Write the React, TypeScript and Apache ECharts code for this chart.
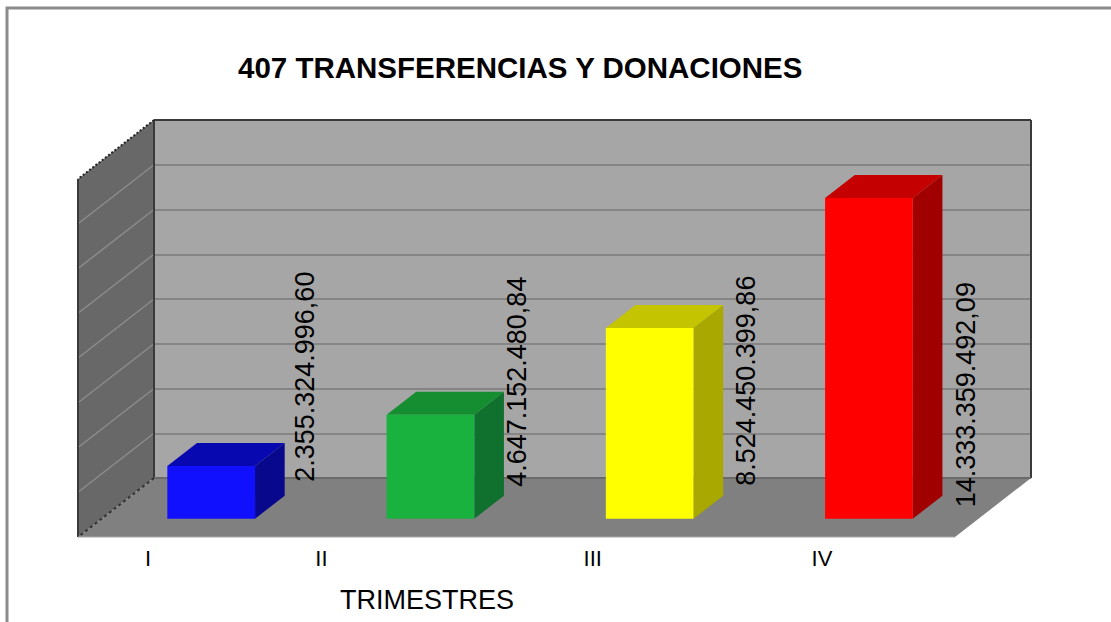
import React, { useEffect, useRef } from "react";
import * as echarts from "echarts";

const categories = ["I", "II", "III", "IV"];
const trimestreValues = [2355324996.6, 4647152480.84, 8524450399.86, 14333359492.09];
const valueLabels = ["2.355.324.996,60", "4.647.152.480,84", "8.524.450.399,86", "14.333.359.492,09"];
const yTicks = [2e9, 4e9, 6e9, 8e9, 10e9, 12e9, 14e9];

const frontColors = ["#1010FF", "#1AB23F", "#FFFF00", "#FF0000"];
const topColors = ["#0808B0", "#158E32", "#C4C400", "#C40000"];
const sideColors = ["#08088C", "#10702D", "#A8A800", "#A00000"];

// oblique projection of the 3D box
const DEPTH_X = -76;
const DEPTH_Y = 59;
const BAR_FRONT = 0.69;
const BAR_BACK = 0.3;
// label placement nudges, relative to each bar's front-right-bottom corner / centre
const valueLabelNudge = [[49.5, -142], [42.5, -137], [52.5, -138], [53, -124]];
const tickLabelNudge = [-63, -109, -57, -47];

function renderWalls(params: any, api: any) {
  const g = params.coordSys;
  const x0 = g.x, x1 = g.x + g.width, y0 = g.y, y1 = g.y + g.height;
  const dark = "#3a3a3a";
  const children: any[] = [
    { type: "polygon", shape: { points: [[x0, y0], [x0, y1], [x0 + DEPTH_X, y1 + DEPTH_Y], [x0 + DEPTH_X, y0 + DEPTH_Y]] }, style: { fill: "#686868" } },
    { type: "polygon", shape: { points: [[x0, y1], [x1, y1], [x1 + DEPTH_X, y1 + DEPTH_Y], [x0 + DEPTH_X, y1 + DEPTH_Y]] }, style: { fill: "#808080" } },
  ];
  yTicks.forEach((t) => {
    const y = api.coord([0, t])[1];
    children.push({ type: "line", shape: { x1: x0, y1: y, x2: x0 + DEPTH_X, y2: y + DEPTH_Y }, style: { stroke: "#8C8C8C", lineWidth: 1.5 } });
  });
  children.push(
    { type: "line", shape: { x1: x0, y1: y0, x2: x0, y2: y1 }, style: { stroke: dark, lineWidth: 2 } },
    { type: "line", shape: { x1: x0 + DEPTH_X, y1: y0 + DEPTH_Y, x2: x0 + DEPTH_X, y2: y1 + DEPTH_Y }, style: { stroke: dark, lineWidth: 2 } },
    { type: "line", shape: { x1: x0, y1: y0, x2: x1, y2: y0 }, style: { stroke: dark, lineWidth: 2 } },
    { type: "line", shape: { x1: x1, y1: y0, x2: x1, y2: y1 }, style: { stroke: dark, lineWidth: 2 } },
    { type: "line", shape: { x1: x0, y1: y1, x2: x1, y2: y1 }, style: { stroke: "#6A6A6A", lineWidth: 2 } },
    { type: "line", shape: { x1: x0, y1: y0, x2: x0 + DEPTH_X, y2: y0 + DEPTH_Y }, style: { stroke: "#222222", lineWidth: 2, lineDash: [2, 2] } },
    { type: "line", shape: { x1: x0, y1: y1, x2: x0 + DEPTH_X, y2: y1 + DEPTH_Y }, style: { stroke: "#333333", lineWidth: 2, lineDash: [3, 3] } },
    { type: "line", shape: { x1: x0 + DEPTH_X, y1: y1 + DEPTH_Y, x2: x1 + DEPTH_X, y2: y1 + DEPTH_Y }, style: { stroke: "#A8A8A8", lineWidth: 1 } }
  );
  return { type: "group", children };
}

function renderBar(params: any, api: any) {
  const i = params.dataIndex;
  const v = api.value(1);
  const top = api.coord([i, v]);
  const base = api.coord([i, 0]);
  const hw = api.size([1, 0])[0] * 0.2;
  const fx = DEPTH_X * BAR_FRONT, fy = DEPTH_Y * BAR_FRONT;
  const bx = DEPTH_X * BAR_BACK, by = DEPTH_Y * BAR_BACK;
  const L = top[0] - hw, R = top[0] + hw;
  const T = top[1], B = base[1];
  const front = [[L + fx, T + fy], [R + fx, T + fy], [R + fx, B + fy], [L + fx, B + fy]];
  const topFace = [[L + fx, T + fy], [R + fx, T + fy], [R + bx, T + by], [L + bx, T + by]];
  const side = [[R + fx, T + fy], [R + bx, T + by], [R + bx, B + by], [R + fx, B + fy]];
  const [nx, ny] = valueLabelNudge[i];
  return {
    type: "group",
    children: [
      { type: "polygon", shape: { points: side }, style: { fill: sideColors[i] } },
      { type: "polygon", shape: { points: topFace }, style: { fill: topColors[i] } },
      { type: "polygon", shape: { points: front }, style: { fill: frontColors[i] } },
      {
        type: "text", x: R + fx + nx, y: B + fy + ny, rotation: Math.PI / 2,
        style: { text: valueLabels[i], font: '27px "Liberation Sans", Arial, sans-serif', fill: "#000", align: "center", verticalAlign: "middle" },
      },
      {
        type: "text", x: top[0] + fx + tickLabelNudge[i], y: B + fy + 39.5,
        style: { text: categories[i], font: '22px "Liberation Sans", Arial, sans-serif', fill: "#000", align: "center", verticalAlign: "middle" },
      },
    ],
  };
}

export default function App() {
  const ref = useRef<HTMLDivElement>(null);
  useEffect(() => {
    const chart = echarts.init(ref.current!, null, { renderer: "svg" });
    chart.setOption({
      animation: false,
      backgroundColor: "#fff",
      title: [
        { text: "407 TRANSFERENCIAS Y DONACIONES", left: 233, top: 47, textStyle: { fontFamily: "Liberation Sans", fontWeight: "bold", fontSize: 29.5, color: "#000" } },
        { text: "TRIMESTRES", left: 335, top: 581, textStyle: { fontFamily: "Liberation Sans", fontWeight: "normal", fontSize: 27, color: "#000" } },
      ],
      grid: { left: 154, top: 120, width: 877, height: 358, show: true, backgroundColor: "#A6A6A6", borderWidth: 0 },
      xAxis: { type: "category", data: categories, axisLine: { show: false }, axisTick: { show: false }, axisLabel: { show: false } },
      yAxis: {
        type: "value", min: 0, max: 16e9, interval: 2e9,
        axisLine: { show: false }, axisTick: { show: false }, axisLabel: { show: false },
        splitLine: { show: true, lineStyle: { color: "#858585", width: 2 } },
      },
      series: [
        { type: "custom", name: "walls", coordinateSystem: "cartesian2d", data: [[0, 0]], renderItem: renderWalls, silent: true, z: 1 },
        { type: "custom", name: "Trimestres", coordinateSystem: "cartesian2d", data: trimestreValues.map((v, i) => [i, v]), encode: { x: 0, y: 1 }, renderItem: renderBar, z: 2 },
      ],
      graphic: [
        { type: "polyline", shape: { points: [[7, 622], [7, 8], [1111, 8]] }, style: { stroke: "#8C8C8C", lineWidth: 3, fill: "none" } },
      ],
    });
    return () => chart.dispose();
  }, []);
  return <div ref={ref} style={{ position: "fixed", left: 0, top: 0, width: 1111, height: 622 }} />;
}
